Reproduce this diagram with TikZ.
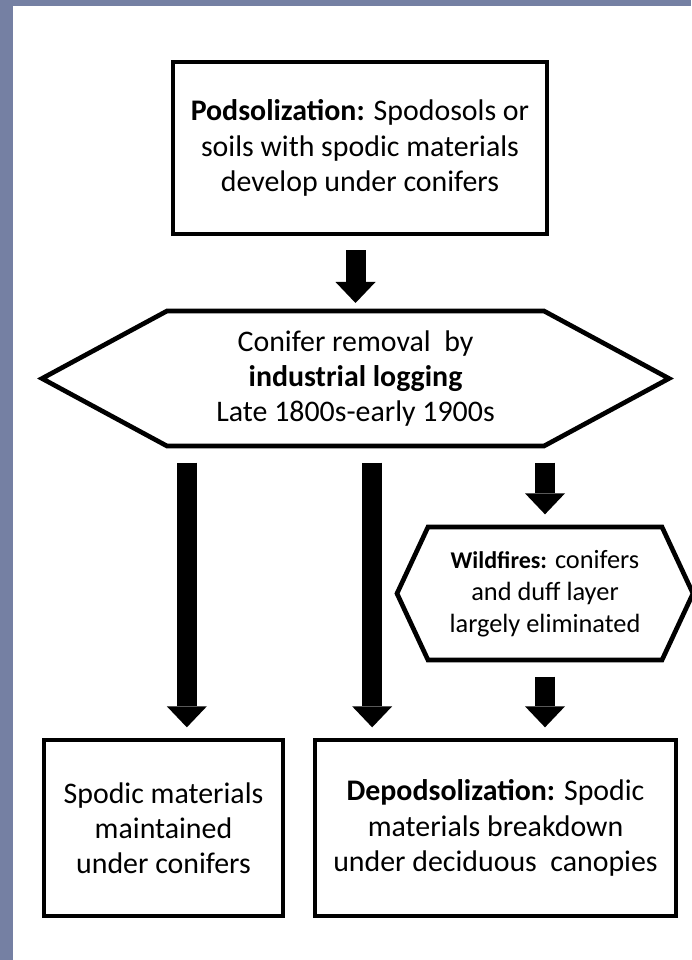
\documentclass[tikz,border=0pt]{standalone}
\usepackage{fontspec}
\setmainfont{Carlito}
\usetikzlibrary{arrows.meta,positioning,calc}
\definecolor{slateCol}{RGB}{117, 128, 163}

\begin{document}
\begin{tikzpicture}[
    x=0.03cm, y=-0.03cm,
    font=\fontsize{25.5}{30}\selectfont,
    % Rectangular stage box
    stageBox/.style={
        rectangle,
        draw=black,
        line width=0.14cm,
        outer sep=0pt,
        inner sep=0pt,
        align=center
    },
    % Text holder of a hexagonal event (outline drawn after)
    eventNode/.style={
        rectangle,
        outer sep=0pt,
        inner sep=0pt,
        align=center
    },
    hexLine/.style={
        draw=black,
        line width=0.14cm,
        line join=miter
    },
    % Thick block arrow
    blockArrow/.style={
        -{Triangle[width=1.2cm, length=0.63cm, line width=0pt]},
        line width=0.6cm,
        draw=black,
        shorten <=0.5cm,
        shorten >=0.38cm
    }
]

    % Page frame
    \useasboundingbox (0,0) rectangle (691,960);
    \fill[slateCol] (0,0) rectangle (691,960);
    \fill[white] (13,6) rectangle (691,960);

    % Top stage
    \node[stageBox, minimum width=11.22cm, minimum height=5.16cm] (Podsol) at (360,148) {
        \textbf{Podsolization:} Spodosols or\\
        soils with spodic materials\\
        develop under conifers
    };

    % Logging event
    \node[eventNode, minimum width=11.31cm, minimum height=4.05cm] (Logging) at (355.5,378.5) {
        Conifer removal~ by\\
        \textbf{industrial logging}\\
        Late 1800s-early 1900s
    };
    \draw[hexLine] ($(Logging.west)+(-125,0)$) -- (Logging.north west) -- (Logging.north east)
        -- ($(Logging.east)+(125,0)$) -- (Logging.south east) -- (Logging.south west) -- cycle;

    % Wildfire event
    \node[eventNode, minimum width=7.02cm, minimum height=3.99cm,
          font=\fontsize{22.5}{27.5}\selectfont] (Wildfire) at (545,593.5) {
        {\fontsize{20.5}{27.5}\selectfont\textbf{Wildfires:}} conifers\\
        and duff layer\\
        largely eliminated
    };
    \draw[hexLine] ($(Wildfire.west)+(-31,0)$) -- (Wildfire.north west) -- (Wildfire.north east)
        -- ($(Wildfire.east)+(31,0)$) -- (Wildfire.south east) -- (Wildfire.south west) -- cycle;

    % Outcomes
    \node[stageBox, minimum width=7.17cm, minimum height=5.28cm] (Maintained) at (163.5,828) {
        Spodic materials\\
        maintained\\
        under conifers
    };
    \node[stageBox, minimum width=10.83cm, minimum height=5.28cm] (Depod) at (495.5,828) {
        \textbf{Depodsolization:} Spodic\\
        materials breakdown\\
        under deciduous~ canopies
    };

    % Arrows
    \draw[blockArrow, shorten <=0.48cm, shorten >=0.24cm] (Logging.north |- Podsol.south) -- (Logging.north);
    \draw[blockArrow] ([xshift=0.7cm]Maintained.north |- Logging.south) -- ([xshift=0.7cm]Maintained.north);
    \draw[blockArrow] ([xshift=-3.7cm]Depod.north |- Logging.south) -- ([xshift=-3.7cm]Depod.north);
    \draw[blockArrow] (Wildfire.north |- Logging.south) -- (Wildfire.north);
    \draw[blockArrow] (Wildfire.south) -- (Wildfire.south |- Depod.north);

\end{tikzpicture}
\end{document}
